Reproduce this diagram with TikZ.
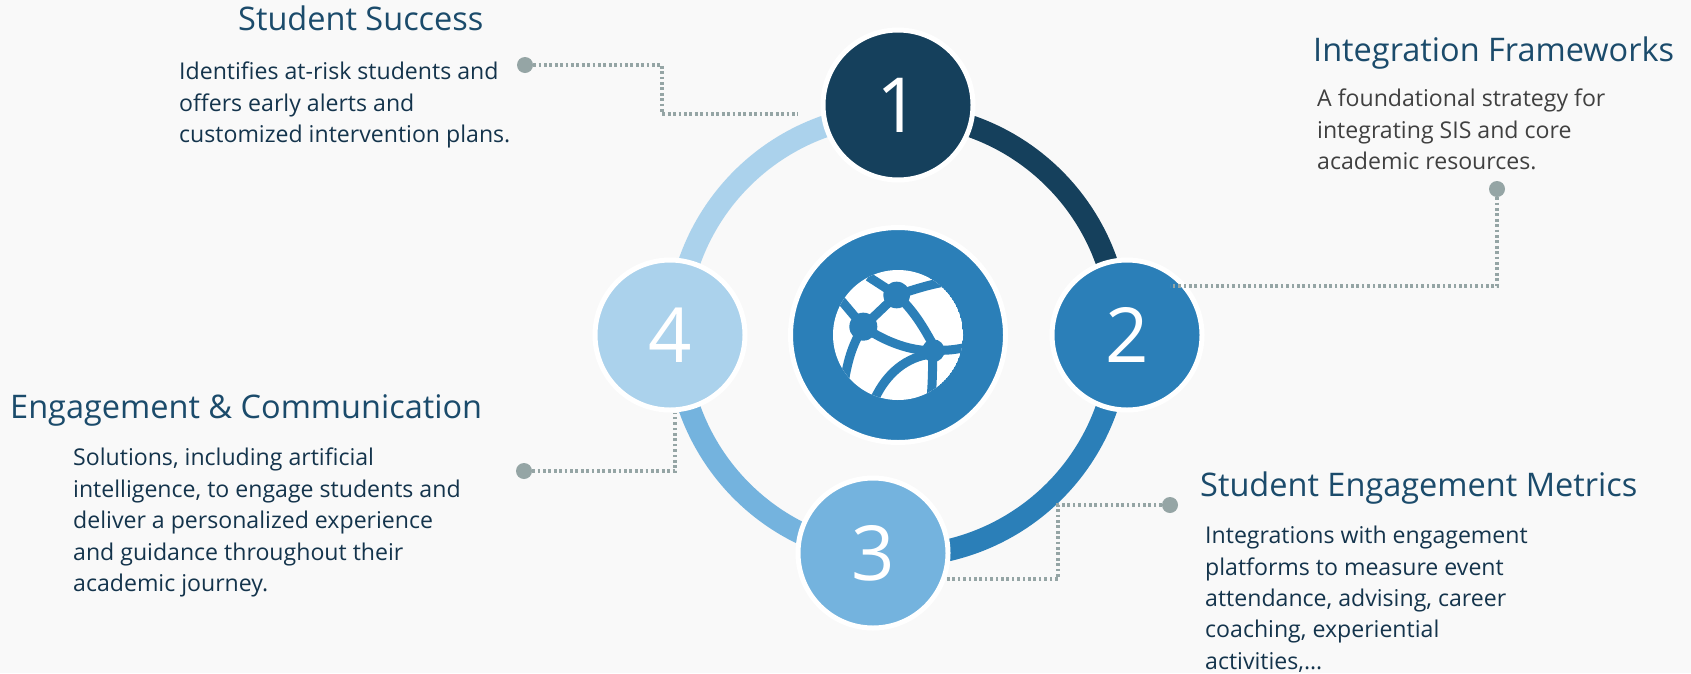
\documentclass[tikz,border=0pt]{standalone}
\usepackage{fontspec}
\setmainfont{Open Sans}
\definecolor{bgc}{HTML}{F9F9F9}
\definecolor{navy}{HTML}{15405C}
\definecolor{headc}{HTML}{1B4B6B}
\definecolor{midb}{HTML}{2B7FB8}
\definecolor{lightb}{HTML}{74B3DE}
\definecolor{paleb}{HTML}{ABD2EC}
\definecolor{dotc}{HTML}{95A5A5}
\definecolor{graytxt}{HTML}{404040}
\definecolor{bodytxt}{HTML}{14344C}
\tikzset{
  numnode/.style={circle,draw=white,line width=5pt,inner sep=0pt,minimum size=150pt,text=white,font=\fontsize{76}{76}\selectfont},
  ringarc/.style={line width=22pt},
  leader/.style={dotc,line width=3.3pt,dash pattern=on 2.7pt off 2.7pt},
  dotnode/.style={circle,fill=dotc,inner sep=0pt,minimum size=16pt},
  headtxt/.style={anchor=west,inner sep=0pt,text=headc,font=\fontsize{32.5}{38}\selectfont},
  bodynode/.style={anchor=north west,inner sep=0pt,align=left,text=bodytxt,font=\fontsize{23.1}{31.4}\selectfont},
  globeline/.style={midb,line width=9pt}
}
\begin{document}
\begin{tikzpicture}[x=1pt,y=-1pt]
\useasboundingbox[fill=bgc] (0,0) rectangle (1691,673);
\coordinate (c) at (898,335);
\draw[ringarc,navy] (898,114) arc[start angle=-90,end angle=0,radius=221];
\draw[ringarc,midb] (1119,335) arc[start angle=0,end angle=97,radius=221];
\draw[ringarc,lightb] (871,554) arc[start angle=97,end angle=180,radius=221];
\draw[ringarc,paleb] (677,335) arc[start angle=180,end angle=270,radius=221];
\node[numnode,fill=navy] (n1) at (898,105) {1};
\node[numnode,fill=midb] (n2) at (1127,335) {2};
\node[numnode,fill=lightb] (n3) at (873,553) {3};
\node[numnode,fill=paleb] (n4) at (670,335) {4};
\node[circle,draw=white,line width=5pt,fill=midb,minimum size=215pt,inner sep=0pt] (hub) at (c) {};
\begin{scope}
\clip (c) circle[radius=65];
\fill[white] (c) circle[radius=65];
\begin{scope}[shift={(740,210)},x=0.3333pt,y=-0.3333pt]
\draw[globeline] (370,350) -- (290,255);
\draw[globeline] (370,350) .. controls (340,400) and (325,440) .. (312,520);
\draw[globeline] (470,255) -- (385,200);
\draw[globeline] (470,255) .. controls (520,240) and (560,225) .. (620,215);
\draw[globeline] (470,255) -- (370,350);
\draw[globeline] (470,255) .. controls (520,300) and (550,350) .. (585,415);
\draw[globeline] (370,350) .. controls (420,385) and (500,425) .. (585,422);
\draw[globeline] (585,420) .. controls (620,423) and (650,418) .. (680,412);
\draw[globeline] (578,420) .. controls (578,470) and (578,510) .. (573,570);
\draw[globeline] (575,432) .. controls (500,440) and (440,490) .. (405,565);
\fill[midb] (470,255) circle[radius=40];
\fill[midb] (370,350) circle[radius=42];
\fill[midb] (580,422) circle[radius=34];
\end{scope}
\end{scope}
\node[headtxt] (h1) at (238,18) {Student Success};
\node[bodynode] (b1) at (179,62) {Identifies at-risk students and\\offers early alerts and\\customized intervention plans.};
\node[headtxt] (h2) at (1313,53) {Integration Frameworks};
\node[bodynode,text=graytxt] (b2) at (1317,89) {A foundational strategy for\\integrating SIS and core\\academic resources.};
\node[headtxt] (h3) at (1200,488) {Student Engagement Metrics};
\node[bodynode] (b3) at (1205,526) {Integrations with engagement\\platforms to measure event\\attendance, advising, career\\coaching, experiential\\activities,…};
\node[headtxt] (h4) at (10,410) {Engagement \& Communication};
\node[bodynode] (b4) at (73,448) {Solutions, including artificial\\intelligence, to engage students and\\deliver a personalized experience\\and guidance throughout their\\academic journey.};
\node[dotnode] (d1) at (525,65) {};
\node[dotnode] (d2) at (1497,189) {};
\node[dotnode] (d3) at (1170,505) {};
\node[dotnode] (d4) at (524,471) {};
\coordinate (e1) at (798,114);
\coordinate (e2) at (1170,286);
\coordinate (e3) at (946,579);
\coordinate (e4) at (675,413);
\draw[leader] (d1) -- (662,65) -- (662,114) -- (e1);
\draw[leader] (d2) -- (1497,286) -- (e2);
\draw[leader] (d3) -- (1058,505) -- (1058,579) -- (e3);
\draw[leader] (d4) -- (675,471) -- (e4);
\end{tikzpicture}
\end{document}
